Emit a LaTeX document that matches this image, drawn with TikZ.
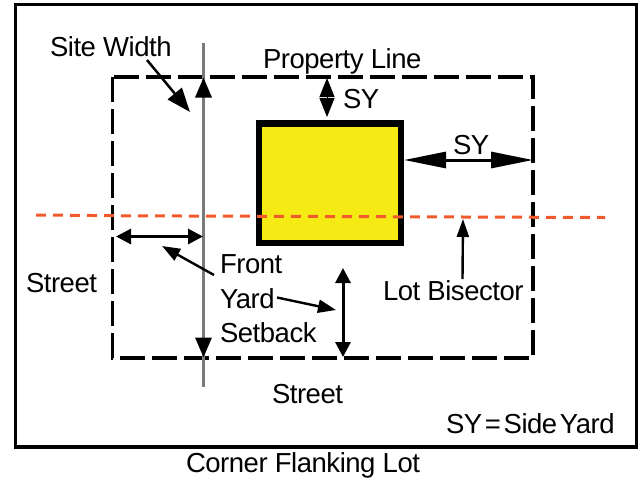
\documentclass[tikz,border=0pt]{standalone}
\usepackage{fontspec}
\setmainfont[LetterSpace=-1.7]{Liberation Sans}
\usetikzlibrary{arrows.meta}
\definecolor{houseyellow}{HTML}{F5EA14}
\definecolor{bisector}{HTML}{F15A2B}
\tikzset{
  label/.style={anchor=base west,inner sep=0pt,outer sep=0pt,font=\fontsize{27.5}{30}\selectfont},
  lotline/.style={line width=3.1pt,dash pattern=on 25pt off 7pt},
  bisectorline/.style={line width=3pt,bisector,dash pattern=on 10pt off 7pt},
  sitegray/.style={line width=3.4pt,color=black!52},
  pointer/.style={line width=2.4pt,-{Triangle[width=13pt,length=18pt]}},
  dimline/.style={line width=3pt},
}
\begin{document}
\begin{tikzpicture}[x=1pt,y=-1pt]
\useasboundingbox (0,0) rectangle (643,480);
\draw[line width=3.2pt] (15.5,4.5) rectangle (636.5,447);
% lot
\draw[lotline] (112.7,77) rectangle (533,358);
% house
\node[draw=black,line width=6.4pt,fill=houseyellow,minimum width=142pt,minimum height=119.5pt,inner sep=0pt,outer sep=0pt,anchor=north west] (house) at (259,123.5) {};
% site line
\coordinate (siteA) at (203.5,43);
\coordinate (siteB) at (203.5,387);
\coordinate (siteTop) at (203.5,77.5);
\coordinate (siteBot) at (203.5,357.5);
\draw[sitegray] (siteA) -- (siteB);
\draw[sitegray,{Triangle[width=16pt,length=20pt,color=black]}-{Triangle[width=16pt,length=20pt,color=black]}] (siteTop) -- (siteBot);
% bisector
\coordinate (bisA) at (36,215);
\coordinate (bisM) at (126,215.8);
\coordinate (bisB) at (605,217.5);
\draw[bisectorline] (bisA) -- (bisM) -- (bisB);
% texts
\node[label] (sitewidth) at (50,56) {Site Width};
\node[label] (propline) at (263,68) {Property Line};
\node[label] (sy1) at (343,108) {SY};
\node[label] (sy2) at (453,154) {SY};
\node[label] (streetL) at (26,292) {Street};
\node[label] (front) at (220,273) {Front};
\node[label] (yard) at (220,308) {Yard};
\node[label] (setback) at (220,342) {Setback};
\node[label] (lotbis) at (383,300.7) {Lot Bisector};
\node[label] (streetB) at (272,403) {Street};
\node[label] (legend) at (446,433) {SY\kern-4.5pt{} =\kern-4.5pt{} Side\kern-4.5pt{} Yard};
\node[label] (caption) at (186,472) {Corner Flanking Lot};
% dimension ends
\coordinate (swFrom) at (147,60);
\coordinate (swTo) at (190,112);
\draw[line width=2.5pt,-{Triangle[width=18pt,length=24pt]}] (swFrom) -- (swTo);
\coordinate (syTop) at (327,78);
\coordinate (syBot) at (327,117);
\draw[line width=1pt,{Triangle[width=15pt,length=19pt]}-{Triangle[width=15pt,length=19pt]}] (syTop) -- (syBot);
\coordinate (hL) at (404,160);
\coordinate (hR) at (533,160);
\draw[dimline,{Triangle[width=16pt,length=42pt]}-{Triangle[width=16pt,length=42pt]}] (hL) -- (hR);
\coordinate (lbFrom) at (462.5,279);
\coordinate (lbTo) at (463,219);
\draw[pointer,-{Triangle[width=12pt,length=18pt]}] (lbFrom) -- (lbTo);
\coordinate (fyL) at (116,236.5);
\coordinate (fyR) at (203,236.5);
\draw[dimline,{Triangle[width=15pt,length=15pt]}-{Triangle[width=15pt,length=15pt]}] (fyL) -- (fyR);
\coordinate (frFrom) at (214,275);
\coordinate (frTo) at (162,246);
\draw[pointer,-{Triangle[width=13pt,length=18pt]}] (frFrom) -- (frTo);
\coordinate (ydFrom) at (277,297.5);
\coordinate (ydTo) at (336,310);
\draw[pointer] (ydFrom) -- (ydTo);
\coordinate (vTop) at (343,268);
\coordinate (vBot) at (343,357);
\draw[dimline,{Triangle[width=15pt,length=15pt]}-{Triangle[width=15pt,length=15pt]}] (vTop) -- (vBot);
\end{tikzpicture}
\end{document}
